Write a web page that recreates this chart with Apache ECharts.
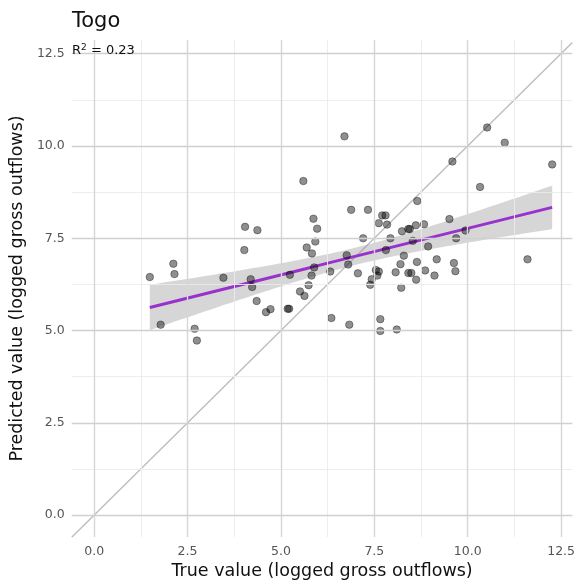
<!DOCTYPE html>
<html>
<head>
<meta charset="utf-8">
<script src="https://cdn.jsdelivr.net/npm/echarts@6/dist/echarts.min.js"></script>
<style>
  html, body { margin: 0; padding: 0; background: #fff; }
  #chart { width: 578px; height: 586px; }
</style>
</head>
<body>
<div id="chart"></div>
<script>
const trueVals = [
  1.49, 1.78, 2.12, 2.15, 2.69, 2.75, 3.46, 4.04, 4.37, 4.02,
  4.19, 4.23, 4.35, 4.60, 4.72, 5.18, 5.22, 5.24, 5.60, 5.87,
  5.97, 5.92, 5.69, 5.83, 5.89, 5.82, 5.74, 5.51, 5.63, 6.70,
  6.32, 6.76, 6.80, 6.88, 7.33, 7.71, 7.80, 7.62, 7.84, 7.20,
  7.93, 7.81, 7.06, 7.54, 7.62, 7.58, 7.43, 7.39, 8.07, 6.35,
  6.83, 7.66, 7.66, 8.10, 8.65, 8.24, 8.41, 8.45, 8.61, 8.83,
  9.51, 8.53, 8.94, 9.69, 9.94, 8.29, 8.20, 8.41, 8.49, 8.64,
  8.62, 8.86, 9.17, 9.11, 9.63, 9.67, 8.22, 10.52, 10.99, 9.59,
  12.26, 10.33, 11.60
];
const predVals = [
  6.45, 5.16, 6.81, 6.53, 5.05, 4.73, 6.43, 7.81, 7.72, 7.18,
  6.39, 6.18, 5.80, 5.50, 5.58, 5.59, 5.59, 6.51, 9.05, 8.03,
  7.76, 7.41, 7.25, 7.09, 6.71, 6.49, 6.23, 6.06, 5.94, 10.26,
  6.60, 7.04, 6.79, 8.27, 8.27, 8.12, 8.12, 7.91, 7.87, 7.50,
  7.50, 7.18, 6.55, 6.64, 6.60, 6.49, 6.39, 6.24, 6.58, 5.34,
  5.16, 5.31, 4.99, 5.03, 8.51, 7.69, 7.75, 7.75, 7.85, 7.88,
  8.02, 7.43, 7.28, 7.50, 7.71, 7.03, 6.80, 6.56, 6.56, 6.86,
  6.38, 6.63, 6.93, 6.49, 6.83, 6.61, 6.16, 10.50, 10.09, 9.58,
  9.50, 8.89, 6.93
];
const xTicks = [0, 2.5, 5, 7.5, 10, 12.5];
const yTicks = [0, 2.5, 5, 7.5, 10, 12.5];
const xMinor = [1.25, 3.75, 6.25, 8.75, 11.25];
const yMinor = [1.25, 3.75, 6.25, 8.75, 11.25];
const xLim = [-0.6, 12.8];
const yLim = [-0.59, 12.87];

const points = trueVals.map((v, i) => [v, predVals[i]]);

// linear fit + 95% confidence band (like geom_smooth(method = 'lm'))
const n = trueVals.length;
const mx = trueVals.reduce((a, b) => a + b, 0) / n;
const my = predVals.reduce((a, b) => a + b, 0) / n;
let sxx = 0, sxy = 0;
for (let i = 0; i < n; i++) {
  sxx += (trueVals[i] - mx) ** 2;
  sxy += (trueVals[i] - mx) * (predVals[i] - my);
}
const slope = sxy / sxx;
const icpt = my - slope * mx;
let sse = 0;
for (let i = 0; i < n; i++) sse += (predVals[i] - icpt - slope * trueVals[i]) ** 2;
const sigma = Math.sqrt(sse / (n - 2));
const tq = 1.99;
const xLo = Math.min(...trueVals), xHi = Math.max(...trueVals);
const fitLine = [], bandUp = [], bandDown = [];
for (let k = 0; k <= 80; k++) {
  const x = xLo + (xHi - xLo) * k / 80;
  const y = icpt + slope * x;
  const se = sigma * Math.sqrt(1 / n + (x - mx) ** 2 / sxx);
  fitLine.push([x, y]);
  bandUp.push([x, y + tq * se]);
  bandDown.push([x, y - tq * se]);
}
const bandPoly = bandUp.concat(bandDown.slice().reverse());

const font = '"DejaVu Sans", "Noto Sans", sans-serif';

function gridLines(vals, dim, color, width) {
  return vals.map(v => ({
    [dim]: v,
    lineStyle: { color: color, width: width, type: 'solid' },
  }));
}

const chart = echarts.init(document.getElementById('chart'), null, { renderer: 'canvas' });
chart.setOption({
  animation: false,
  backgroundColor: '#fff',
  textStyle: { fontFamily: font },
  title: [{
    text: 'Togo',
    left: 67,
    top: 6,
    textStyle: { fontFamily: font, fontSize: 21, fontWeight: 'normal', color: '#111' },
  }, {
    text: 'R{s|2} = 0.23',
    left: 67,
    top: 38,
    textStyle: {
      fontFamily: font, fontSize: 13, fontWeight: 'normal', color: '#111',
      rich: { s: { fontFamily: font, fontSize: 9, verticalAlign: 'top', padding: [0, 0, 6, 0], color: '#111' } },
    },
  }],
  grid: {
    left: 70,
    right: 0,
    top: 40,
    bottom: 49,
    containLabel: false,
  },
  xAxis: {
    type: 'value',
    min: xLim[0],
    max: xLim[1],
    name: 'True value (logged gross outflows)',
    nameLocation: 'middle',
    nameGap: 24,
    nameTextStyle: { fontFamily: font, fontSize: 17.5, color: '#111' },
    axisLine: { show: false },
    axisTick: { show: false, customValues: xTicks },
    splitLine: { show: false },
    axisLabel: {
      customValues: xTicks,
      margin: 8,
      fontSize: 12.5,
      color: '#555',
      fontFamily: font,
      formatter: v => v.toFixed(1),
    },
  },
  yAxis: {
    type: 'value',
    min: yLim[0],
    max: yLim[1],
    name: 'Predicted value (logged gross outflows)',
    nameLocation: 'middle',
    nameGap: 44,
    nameTextStyle: { fontFamily: font, fontSize: 17.5, color: '#111' },
    axisLine: { show: false },
    axisTick: { show: false, customValues: yTicks },
    splitLine: { show: false },
    axisLabel: {
      customValues: yTicks,
      margin: 7,
      fontSize: 12.5,
      color: '#555',
      fontFamily: font,
      formatter: v => v.toFixed(1),
    },
  },
  series: [{
    // panel grid
    type: 'line',
    data: [],
    silent: true,
    z: 0,
    markLine: {
      silent: true,
      symbol: 'none',
      label: { show: false },
      animation: false,
      data: [].concat(
        gridLines(xMinor, 'xAxis', '#ebebeb', 0.9),
        gridLines(yMinor, 'yAxis', '#ebebeb', 0.9),
        gridLines(xTicks, 'xAxis', '#d6d6d6', 1.4),
        gridLines(yTicks, 'yAxis', '#d0d0d0', 1.3)
      ),
    },
  }, {
    // y = x reference
    type: 'line',
    data: [[xLim[0], xLim[0]], [xLim[1], xLim[1]]],
    showSymbol: false,
    silent: true,
    z: 1,
    lineStyle: { color: '#bdbdbd', width: 1.4 },
  }, {
    type: 'custom',
    silent: true,
    z: 2,
    data: [0],
    renderItem(params, api) {
      return {
        type: 'polygon',
        shape: { points: bandPoly.map(p => api.coord(p)) },
        style: { fill: 'rgba(153,153,153,0.4)' },
      };
    },
  }, {
    type: 'line',
    data: fitLine,
    showSymbol: false,
    silent: true,
    z: 3,
    lineStyle: { color: '#9932CC', width: 3 },
  }, {
    type: 'scatter',
    data: points,
    symbolSize: 7.5,
    z: 4,
    itemStyle: {
      color: 'rgba(0,0,0,0.55)',
      borderColor: 'rgba(0,0,0,0.45)',
      borderWidth: 1,
    },
  }],
});
</script>
</body>
</html>
